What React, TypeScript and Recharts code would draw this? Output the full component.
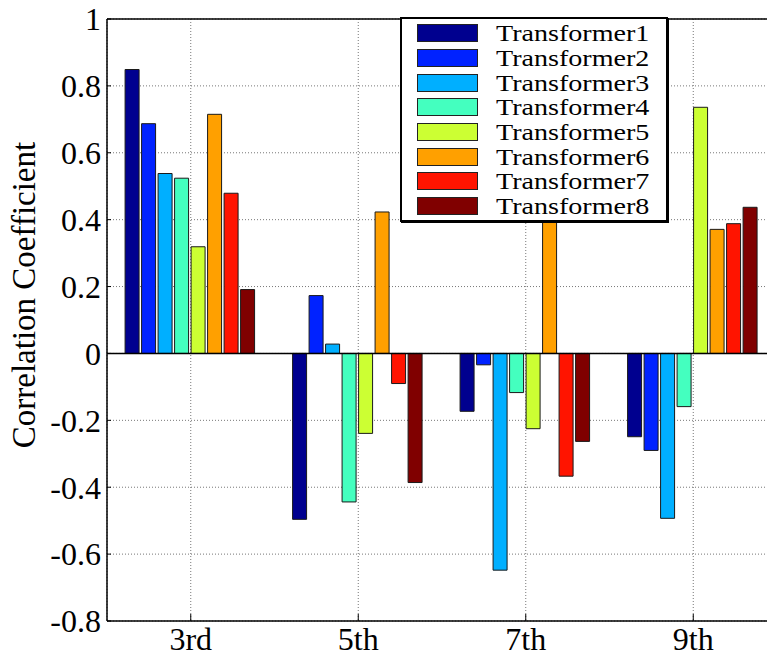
import React from 'react';
import { BarChart, Bar, XAxis, YAxis, CartesianGrid, ReferenceLine } from 'recharts';

// harmonic orders on the x axis
const harmonics = ['3rd', '5th', '7th', '9th'];

// correlation coefficient per transformer, one value per harmonic
const transformer1 = [0.849, -0.496, -0.173, -0.249];
const transformer2 = [0.687, 0.173, -0.034, -0.29];
const transformer3 = [0.538, 0.028, -0.648, -0.493];
const transformer4 = [0.524, -0.444, -0.117, -0.159];
const transformer5 = [0.319, -0.239, -0.225, 0.736];
const transformer6 = [0.715, 0.423, 0.392, 0.371];
const transformer7 = [0.479, -0.09, -0.367, 0.388];
const transformer8 = [0.191, -0.386, -0.263, 0.437];

const yTicks = [-0.8, -0.6, -0.4, -0.2, 0, 0.2, 0.4, 0.6, 0.8, 1];

const seriesNames = [
  'Transformer1', 'Transformer2', 'Transformer3', 'Transformer4',
  'Transformer5', 'Transformer6', 'Transformer7', 'Transformer8',
];
const seriesValues = [
  transformer1, transformer2, transformer3, transformer4,
  transformer5, transformer6, transformer7, transformer8,
];

// jet colormap, 8 steps
const colors = ['#00008f', '#0022ff', '#00afff', '#44ffbf', '#ccff33', '#ffa000', '#ff1400', '#800000'];

const data = harmonics.map((h, i) => {
  const row: Record<string, string | number> = { harmonic: h };
  seriesNames.forEach((name, s) => {
    row[name] = seriesValues[s][i];
  });
  return row;
});

const FONT = "'Times New Roman', 'Liberation Serif', serif";

const LegendBox = () => (
  <div
    style={{
      position: 'absolute',
      left: 400,
      top: 17,
      border: '2px solid #000',
      boxShadow: '1px 1px 0 #000',
      background: '#fff',
      width: 264,
      padding: '2px 0 1px 0',
      fontFamily: FONT,
    }}
  >
    {seriesNames.map((name, i) => (
      <div key={name} style={{ display: 'flex', alignItems: 'center', height: 24.7 }}>
        <div
          style={{
            width: 59,
            height: 16,
            marginLeft: 15,
            background: colors[i],
            border: '1px solid #222',
          }}
        />
        <span
          style={{
            display: 'inline-block',
            height: 24,
            marginLeft: 18,
            fontSize: 24,
            lineHeight: '24px',
            color: '#000',
            whiteSpace: 'nowrap',
            transform: 'scaleX(1.17)',
            transformOrigin: 'left center',
          }}
        >
          {name}
        </span>
      </div>
    ))}
  </div>
);

const YLabel = (props: any) => {
  const vb = props.viewBox;
  const x = 35;
  const y = vb.y + vb.height / 2 - 25;
  return (
    <text
      x={x}
      y={y}
      transform={`rotate(-90, ${x}, ${y})`}
      textAnchor="middle"
      fontFamily={FONT}
      fontSize={33}
      fill="#000"
    >
      Correlation Coefficient
    </text>
  );
};

export default function App() {
  return (
    <div style={{ position: 'absolute', left: 0, top: 0, width: 767, height: 656, overflow: 'hidden', background: '#fff' }}>
      <BarChart
        width={790}
        height={656}
        data={data}
        margin={{ top: 19, right: 13, bottom: 0, left: 0 }}
        barCategoryGap="10.8%"
        barGap={2.5}
      >
        <CartesianGrid stroke="#777" strokeDasharray="1 2" />
        <XAxis
          dataKey="harmonic"
          height={35}
          tickLine={{ stroke: '#000', strokeWidth: 1 }}
          tickSize={-7}
          tickMargin={13}
          axisLine={{ stroke: '#000', strokeWidth: 1.5 }}
          tick={{ fill: '#000', fontSize: 32, fontFamily: FONT }}
        />
        <YAxis
          width={107}
          domain={[-0.8, 1]}
          ticks={yTicks}
          interval={0}
          allowDataOverflow
          tickLine={{ stroke: '#000', strokeWidth: 1 }}
          tickSize={-4}
          tickMargin={10}
          tickFormatter={(v: number) => String(v)}
          axisLine={{ stroke: '#000', strokeWidth: 1.5 }}
          tick={{ fill: '#000', fontSize: 32, fontFamily: FONT }}
          label={<YLabel />}
        />
        <ReferenceLine y={0} stroke="#000" strokeWidth={1.5} />
        <ReferenceLine y={1} stroke="#000" strokeWidth={1.5} />
        {seriesNames.map((name, i) => (
          <Bar
            key={name}
            dataKey={name}
            fill={colors[i]}
            stroke="#1a1a1a"
            strokeWidth={1}
            isAnimationActive={false}
          />
        ))}
      </BarChart>
      <LegendBox />
    </div>
  );
}
